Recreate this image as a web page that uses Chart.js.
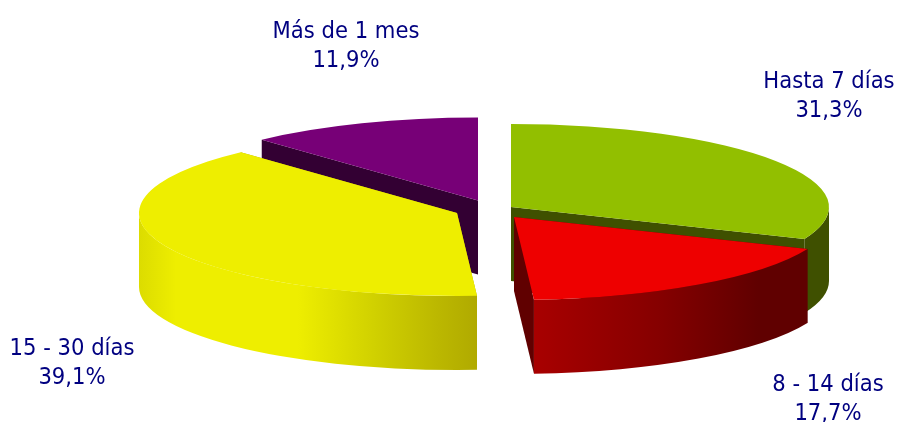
<!DOCTYPE html>
<html lang="es">
<head>
<meta charset="utf-8">
<style>html,body{margin:0;padding:0;background:#fff}canvas{display:block}</style>
<script src="https://cdn.jsdelivr.net/npm/chart.js@4/dist/chart.umd.min.js"></script>
</head>
<body>
<canvas id="c" width="898" height="422"></canvas>
<script>
const categories = ['Hasta 7 días', '8 - 14 días', '15 - 30 días', 'Más de 1 mes'];
const shares = [31.3, 17.7, 39.1, 11.9];
const topColors = ['#92bf00', '#ee0000', '#eeee00', '#770077'];
const sideColors = ['#3f5000', '#600000', '#b0aa00', '#330033'];

const SQUASH = 83 / 318, DEPTH = 74;
const shifts = [[25, -4], [28, 6], [-29, 2], [-8, -10.5]];
const wallStops = [
  [[0, '#3f5000'], [1, '#3f5000']],
  [[0, '#a80000'], [0.45, '#860000'], [0.82, '#600000'], [1, '#600000']],
  [[0, '#dcdc00'], [0.11, '#eeee00'], [0.47, '#eeee00'], [0.7, '#d0d000'], [0.88, '#bcb800'], [1, '#b0aa00']],
  [[0, '#330033'], [1, '#330033']]
];
const labelSpots = [[829, 88], [828, 391], [72, 355], [346, 38]];
const drawOrder = [3, 2, 0, 1];

const pie3d = {
  id: 'pie3d',
  beforeDatasetDraw(chart, args) {
    const ctx = chart.ctx;
    const arcs = args.meta.data;
    drawOrder.forEach(i => {
      const arc = arcs[i];
      const r = arc.outerRadius, ry = r * SQUASH;
      const cx = arc.x + shifts[i][0], cy = arc.y + shifts[i][1];
      // radial cut faces
      ctx.fillStyle = sideColors[i];
      [arc.startAngle, arc.endAngle].forEach(a => {
        const ex = cx + Math.cos(a) * r, ey = cy + Math.sin(a) * ry;
        ctx.beginPath();
        ctx.moveTo(cx, cy);
        ctx.lineTo(ex, ey);
        ctx.lineTo(ex, ey + DEPTH);
        ctx.lineTo(cx, cy + DEPTH);
        ctx.closePath();
        ctx.fill();
      });
      // outer wall: only the front half of the rim is visible
      const a = Math.max(arc.startAngle, 0), b = Math.min(arc.endAngle, Math.PI);
      if (b > a) {
        const x0 = cx + r * Math.cos(b);
        const x1 = cx + r * Math.cos(a);
        const g = ctx.createLinearGradient(x0, 0, x1, 0);
        wallStops[i].forEach(s => g.addColorStop(s[0], s[1]));
        ctx.fillStyle = g;
        ctx.beginPath();
        ctx.ellipse(cx, cy, r, ry, 0, a, b);
        ctx.ellipse(cx, cy + DEPTH, r, ry, 0, b, a, true);
        ctx.closePath();
        ctx.fill();
      }
      // top face: the library's own arc, flattened
      ctx.save();
      ctx.translate(cx, cy);
      ctx.scale(1, SQUASH);
      ctx.translate(-arc.x, -arc.y);
      arc.draw(ctx);
      ctx.restore();
    });
    return false;
  },
  afterDatasetsDraw(chart) {
    const ctx = chart.ctx;
    ctx.save();
    ctx.fillStyle = '#000080';
    ctx.font = '23.5px "DejaVu Sans Condensed", "DejaVu Sans", sans-serif';
    ctx.textAlign = 'center';
    ctx.textBaseline = 'alphabetic';
    categories.forEach((name, i) => {
      const [x, y] = labelSpots[i];
      ctx.fillText(name, x, y);
      ctx.fillText(shares[i].toFixed(1).replace('.', ',') + '%', x, y + 29);
    });
    ctx.restore();
  }
};

new Chart(document.getElementById('c'), {
  type: 'pie',
  data: {
    labels: categories,
    datasets: [{ data: shares, backgroundColor: topColors, borderWidth: 0 }]
  },
  options: {
    responsive: false,
    animation: false,
    radius: 318,
    layout: { padding: { left: 74 } },
    plugins: { legend: { display: false }, tooltip: { enabled: false } }
  },
  plugins: [pie3d]
});
</script>
</body>
</html>
